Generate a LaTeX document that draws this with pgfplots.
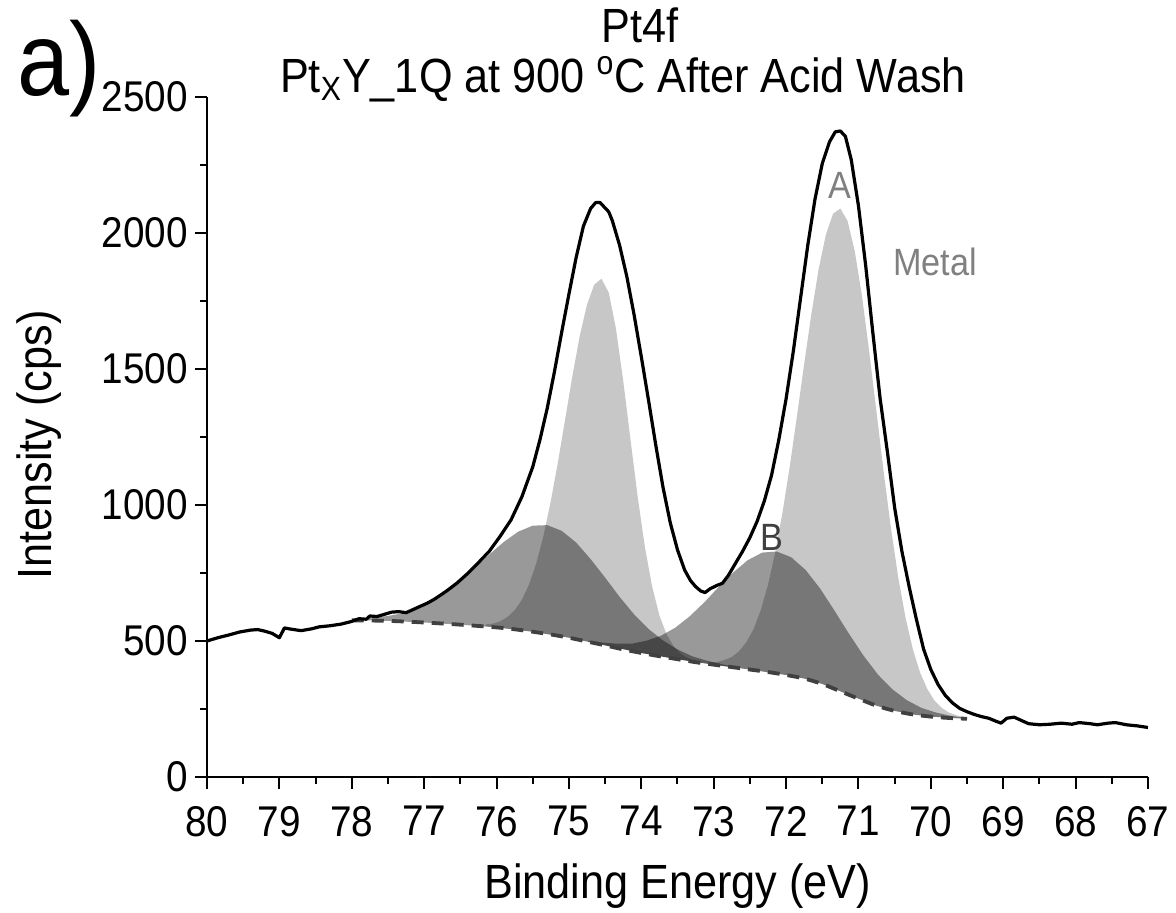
\documentclass[border=0pt]{standalone}
\usepackage{fontspec}
\setmainfont{Liberation Sans}[FakeStretch=0.9]
\usepackage{pgfplots}
\pgfplotsset{compat=1.18}
\begin{document}
\begin{tikzpicture}
\path[use as bounding box] (-103.5pt,-68pt) rectangle (484.5pt,388.5pt);
\begin{axis}[
  at={(0,0)}, anchor=south west, scale only axis,
  width=470.5pt, height=340pt,
  xmin=67, xmax=80, x dir=reverse, ymin=0, ymax=2500,
  axis x line*=bottom, axis y line*=left,
  xtick={67,68,...,80}, minor x tick num=1,
  ytick={0,500,...,2500}, minor y tick num=1,
  tick align=outside, major tick length=6pt, minor tick length=3.5pt,
  every tick/.style={black, line width=1pt},
  axis line style={line width=1pt, black},
  /pgf/number format/assume math mode=true,
  /pgf/number format/1000 sep={},
  ticklabel style={font=\fontsize{21.5}{24}\selectfont},
  xticklabel style={yshift=-5pt},
  clip=false,
]
% A components (light grey)
\addplot[fill=black!22, draw=none] coordinates {
(76.15,561)(76.05,564)(75.95,572)(75.85,588)(75.75,613)(75.65,651)(75.55,708)(75.45,786)(75.35,888)(75.25,1015)(75.15,1160)(75.05,1318)(74.95,1477)(74.85,1622)(74.75,1737)(74.65,1810)(74.55,1832)(74.45,1781)(74.35,1648)(74.25,1457)(74.15,1242)(74.05,1030)(73.95,845)(73.85,700)(73.75,594)(73.65,524)(73.55,479)(73.45,452)(73.35,436)(73.25,426)
(73.25,422)(73.5,433)(74.0,456)(74.5,484)(75.0,512)(75.5,534)(76.0,550)(76.15,554)};
\addplot[fill=black!22, draw=none] coordinates {
(73.05,422)(72.95,423)(72.85,430)(72.75,441)(72.65,462)(72.55,495)(72.45,543)(72.35,613)(72.25,706)(72.15,825)(72.05,971)(71.95,1140)(71.85,1326)(71.75,1518)(71.65,1703)(71.55,1867)(71.45,1994)(71.35,2071)(71.25,2090)(71.15,2044)(71.05,1932)(70.95,1766)(70.85,1561)(70.75,1340)(70.65,1118)(70.55,913)(70.45,733)(70.35,586)(70.25,471)(70.15,385)(70.05,324)(69.95,281)(69.85,254)(69.75,237)(69.65,227)(69.55,220)
(69.55,215)(70.0,222)(70.25,230)(70.5,243)(70.75,262)(71.0,288)(71.25,315)(71.5,342)(71.75,362)(72.0,375)(72.5,395)(73.0,413)(73.05,415)};
% B components (dark, translucent)
\addplot[fill=black, fill opacity=0.4, draw=none] coordinates {
(78.0,581)(77.9,582)(77.7,586)(77.5,592)(77.3,602)(77.1,618)(76.9,643)(76.7,676)(76.5,718)(76.3,767)(76.1,818)(75.9,864)(75.7,902)(75.5,924)(75.3,926)(75.1,905)(74.9,862)(74.7,801)(74.5,733)(74.3,662)(74.1,598)(73.9,544)(73.7,502)(73.5,469)(73.3,444)(73.1,428)(72.9,415)(72.7,405)
(72.7,402)(73.0,413)(73.5,433)(74.0,456)(74.5,484)(75.0,512)(75.5,534)(76.0,550)(76.5,560)(77.0,568)(77.5,574)(78.0,578)};
\addplot[fill=black, fill opacity=0.4, draw=none] coordinates {
(74.73,501)(74.53,494)(74.33,490)(74.13,490)(73.93,501)(73.73,519)(73.53,549)(73.33,591)(73.13,642)(72.93,699)(72.73,752)(72.53,797)(72.33,825)(72.13,829)(71.93,808)(71.73,761)(71.53,693)(71.33,611)(71.13,526)(70.93,446)(70.73,376)(70.53,322)(70.33,282)(70.13,254)(69.93,237)(69.73,225)(69.53,218)
(69.53,214)(70.0,222)(70.25,230)(70.5,243)(70.75,262)(71.0,288)(71.25,315)(71.5,342)(71.75,362)(72.0,375)(72.5,395)(73.0,413)(73.5,433)(74.0,456)(74.5,484)(74.73,497)};
% background
\addplot[black!75, line width=1.9pt, dash pattern=on 6pt off 4pt, smooth] coordinates {
(78.0,576)(77.5,574)(77.0,568)(76.5,560)(76.0,550)(75.75,543)(75.5,534)(75.25,524)(75.0,512)(74.75,498)(74.5,484)(74.25,469)(74.0,456)(73.75,444)(73.5,433)(73.25,422)(73.0,413)(72.75,404)(72.5,395)(72.25,386)(72.0,375)(71.75,362)(71.5,342)(71.25,315)(71.0,288)(70.75,262)(70.5,243)(70.25,230)(70.0,222)(69.75,217)(69.5,214)};
% data / envelope
\addplot[black, line width=1.6pt, line join=round] coordinates {
(80.00,500)(79.85,512)(79.70,522)(79.55,533)(79.40,540)(79.30,542)(79.20,536)(79.10,528)(79.00,512)(78.93,548)(78.85,544)(78.70,538)(78.55,545)(78.45,552)(78.30,556)(78.15,562)(78.00,572)(77.90,582)(77.80,580)(77.75,592)(77.65,590)(77.55,598)(77.45,606)(77.35,608)(77.25,604)(77.15,616)(77.05,628)(76.95,640)(76.85,655)(76.70,682)(76.55,712)(76.40,748)(76.25,788)(76.10,830)(75.95,885)(75.80,945)(75.65,1030)(75.50,1140)(75.40,1240)(75.30,1355)(75.20,1490)(75.10,1635)(75.00,1775)(74.90,1910)(74.80,2025)(74.70,2090)(74.63,2112)(74.57,2112)(74.50,2092)(74.45,2078)(74.40,2045)(74.30,1955)(74.20,1840)(74.10,1700)(74.00,1545)(73.90,1385)(73.80,1220)(73.70,1065)(73.60,935)(73.50,835)(73.40,760)(73.32,722)(73.25,700)(73.18,684)(73.12,678)(73.05,692)(72.95,705)(72.88,712)(72.80,740)(72.70,785)(72.60,830)(72.50,880)(72.40,940)(72.30,1015)(72.20,1110)(72.10,1240)(72.00,1390)(71.90,1565)(71.80,1760)(71.70,1955)(71.60,2125)(71.50,2255)(71.40,2335)(71.32,2372)(71.25,2375)(71.18,2355)(71.10,2270)(71.00,2100)(70.90,1880)(70.80,1630)(70.70,1390)(70.60,1195)(70.50,990)(70.40,830)(70.30,700)(70.20,580)(70.10,470)(70.00,395)(69.90,340)(69.80,300)(69.70,272)(69.60,252)(69.50,240)(69.40,230)(69.30,222)(69.20,216)(69.10,205)(69.03,198)(68.95,216)(68.85,220)(68.75,208)(68.65,196)(68.50,192)(68.35,194)(68.20,198)(68.05,194)(67.95,200)(67.80,196)(67.70,192)(67.55,198)(67.45,200)(67.30,192)(67.15,188)(67.00,182)};
\node[text=black!50, font=\fontsize{19}{21}\selectfont] at (axis cs:71.26,2176) {A};
\node[text=black!50, font=\fontsize{19}{21}\selectfont] at (axis cs:69.94,1893) {Metal};
\node[text=black!75, font=\fontsize{19}{21}\selectfont] at (axis cs:72.2,882) {B};
\end{axis}
\node[font=\fontsize{24}{28}\selectfont, anchor=base] at (216.5pt,367pt) {Pt4f};
\node[font=\fontsize{24}{28}\selectfont, anchor=base] at (208pt,342pt) {Pt\textsubscript{X}Y\_1Q at 900 \textsuperscript{o}C After Acid Wash};
\node[font=\fontsize{52}{58}\selectfont, anchor=base west, inner sep=0pt] at (-95pt,340.5pt) {a)};
\node[font=\fontsize{24}{28}\selectfont, anchor=base] at (235.25pt,-61pt) {Binding Energy (eV)};
\node[font=\fontsize{24}{28}\selectfont, anchor=base, rotate=90] at (-77.5pt,166pt) {Intensity (cps)};
\end{tikzpicture}
\end{document}
